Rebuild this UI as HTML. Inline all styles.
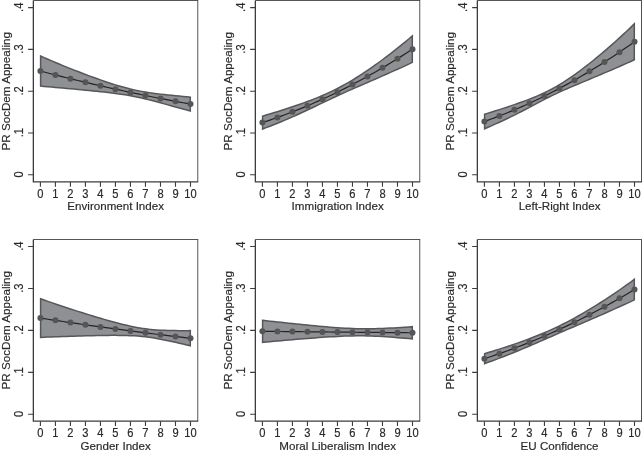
<!DOCTYPE html>
<html><head><meta charset="utf-8"><title>Predicted probabilities</title>
<style>html,body{margin:0;padding:0;background:#fff;overflow:hidden}svg{display:block}text{stroke:#2a2a2a;stroke-width:.18px}</style></head>
<body>
<svg width="642" height="453" viewBox="0 0 642 453" font-family="Liberation Sans, Arial, sans-serif" font-size="11.6" fill="#2a2a2a">
<rect width="642" height="453" fill="#fff"/>
<g>
<path d="M33.35 0.50H198.20" fill="none" stroke="#555" stroke-width="1"/>
<path d="M197.75 0.50V181.90" fill="none" stroke="#444" stroke-width="0.9"/>
<polygon points="40.60,56.05 44.15,57.68 47.91,59.29 51.66,60.89 55.41,62.46 59.16,64.03 62.91,65.57 66.67,67.10 70.42,68.60 74.17,70.09 77.92,71.56 81.68,73.00 85.43,74.43 89.18,75.83 92.94,77.21 96.69,78.57 100.44,79.89 104.19,81.19 107.94,82.45 111.70,83.67 115.45,84.85 119.20,85.98 122.95,87.05 126.71,88.06 130.46,89.01 134.21,89.87 137.97,90.66 141.72,91.38 145.47,92.03 149.22,92.62 152.97,93.16 156.73,93.66 160.48,94.12 164.23,94.56 167.98,94.97 171.74,95.36 175.49,95.74 179.24,96.11 183.00,96.46 186.75,96.80 190.30,97.14 190.30,111.01 186.75,110.00 183.00,108.99 179.24,107.96 175.49,106.94 171.74,105.91 167.98,104.88 164.23,103.85 160.48,102.83 156.73,101.83 152.97,100.84 149.22,99.88 145.47,98.95 141.72,98.07 137.97,97.24 134.21,96.47 130.46,95.76 126.71,95.10 122.95,94.50 119.20,93.95 115.45,93.43 111.70,92.95 107.94,92.50 104.19,92.07 100.44,91.66 96.69,91.27 92.94,90.88 89.18,90.51 85.43,90.14 81.68,89.78 77.92,89.43 74.17,89.08 70.42,88.73 66.67,88.39 62.91,88.05 59.16,87.72 55.41,87.38 51.66,87.05 47.91,86.72 44.15,86.39 40.60,86.06" fill="#8f9093"/>
<polyline points="40.40,71.05 44.15,72.03 47.91,73.00 51.66,73.97 55.41,74.92 59.16,75.87 62.91,76.81 66.67,77.74 70.42,78.67 74.17,79.58 77.92,80.49 81.68,81.39 85.43,82.29 89.18,83.17 92.94,84.05 96.69,84.92 100.44,85.78 104.19,86.63 107.94,87.48 111.70,88.31 115.45,89.14 119.20,89.96 122.95,90.78 126.71,91.58 130.46,92.38 134.21,93.17 137.97,93.95 141.72,94.73 145.47,95.49 149.22,96.25 152.97,97.00 156.73,97.74 160.48,98.48 164.23,99.21 167.98,99.92 171.74,100.64 175.49,101.34 179.24,102.04 183.00,102.72 186.75,103.40 190.50,104.08" fill="none" stroke="#242424" stroke-width="1.2"/>
<circle cx="40.40" cy="71.05" r="3" fill="#555"/>
<circle cx="55.41" cy="74.92" r="3" fill="#555"/>
<circle cx="70.42" cy="78.67" r="3" fill="#555"/>
<circle cx="85.43" cy="82.29" r="3" fill="#555"/>
<circle cx="100.44" cy="85.78" r="3" fill="#555"/>
<circle cx="115.45" cy="89.14" r="3" fill="#555"/>
<circle cx="130.46" cy="92.38" r="3" fill="#555"/>
<circle cx="145.47" cy="95.49" r="3" fill="#555"/>
<circle cx="160.48" cy="98.48" r="3" fill="#555"/>
<circle cx="175.49" cy="101.34" r="3" fill="#555"/>
<circle cx="190.50" cy="104.08" r="3" fill="#555"/>
<polygon points="40.60,56.05 44.15,57.68 47.91,59.29 51.66,60.89 55.41,62.46 59.16,64.03 62.91,65.57 66.67,67.10 70.42,68.60 74.17,70.09 77.92,71.56 81.68,73.00 85.43,74.43 89.18,75.83 92.94,77.21 96.69,78.57 100.44,79.89 104.19,81.19 107.94,82.45 111.70,83.67 115.45,84.85 119.20,85.98 122.95,87.05 126.71,88.06 130.46,89.01 134.21,89.87 137.97,90.66 141.72,91.38 145.47,92.03 149.22,92.62 152.97,93.16 156.73,93.66 160.48,94.12 164.23,94.56 167.98,94.97 171.74,95.36 175.49,95.74 179.24,96.11 183.00,96.46 186.75,96.80 190.30,97.14 190.30,111.01 186.75,110.00 183.00,108.99 179.24,107.96 175.49,106.94 171.74,105.91 167.98,104.88 164.23,103.85 160.48,102.83 156.73,101.83 152.97,100.84 149.22,99.88 145.47,98.95 141.72,98.07 137.97,97.24 134.21,96.47 130.46,95.76 126.71,95.10 122.95,94.50 119.20,93.95 115.45,93.43 111.70,92.95 107.94,92.50 104.19,92.07 100.44,91.66 96.69,91.27 92.94,90.88 89.18,90.51 85.43,90.14 81.68,89.78 77.92,89.43 74.17,89.08 70.42,88.73 66.67,88.39 62.91,88.05 59.16,87.72 55.41,87.38 51.66,87.05 47.91,86.72 44.15,86.39 40.60,86.06" fill="none" stroke="#56575a" stroke-width="1.5" stroke-linejoin="miter"/>
<path d="M33.35 0.50 V181.90 H198.20" fill="none" stroke="#3c3c3c" stroke-width="1.3"/>
<path d="M40.40 181.90v4.8M55.41 181.90v4.8M70.42 181.90v4.8M85.43 181.90v4.8M100.44 181.90v4.8M115.45 181.90v4.8M130.46 181.90v4.8M145.47 181.90v4.8M160.48 181.90v4.8M175.49 181.90v4.8M190.50 181.90v4.8M33.35 174.80h-5.2M33.35 133.00h-5.2M33.35 91.20h-5.2M33.35 49.40h-5.2M33.35 7.60h-5.2" fill="none" stroke="#3c3c3c" stroke-width="1.1"/>
<text transform="translate(40.40 197.65) scale(.96 1.08)" text-anchor="middle">0</text>
<text transform="translate(55.41 197.65) scale(.96 1.08)" text-anchor="middle">1</text>
<text transform="translate(70.42 197.65) scale(.96 1.08)" text-anchor="middle">2</text>
<text transform="translate(85.43 197.65) scale(.96 1.08)" text-anchor="middle">3</text>
<text transform="translate(100.44 197.65) scale(.96 1.08)" text-anchor="middle">4</text>
<text transform="translate(115.45 197.65) scale(.96 1.08)" text-anchor="middle">5</text>
<text transform="translate(130.46 197.65) scale(.96 1.08)" text-anchor="middle">6</text>
<text transform="translate(145.47 197.65) scale(.96 1.08)" text-anchor="middle">7</text>
<text transform="translate(160.48 197.65) scale(.96 1.08)" text-anchor="middle">8</text>
<text transform="translate(175.49 197.65) scale(.96 1.08)" text-anchor="middle">9</text>
<text transform="translate(190.50 197.65) scale(.96 1.08)" text-anchor="middle">10</text>
<text x="115.67" y="210.40" text-anchor="middle">Environment Index</text>
<text transform="translate(22.55 174.45) rotate(-90) scale(.96 1.08)" text-anchor="middle">0</text>
<text transform="translate(22.55 132.65) rotate(-90) scale(.96 1.08)" text-anchor="middle">.1</text>
<text transform="translate(22.55 90.85) rotate(-90) scale(.96 1.08)" text-anchor="middle">.2</text>
<text transform="translate(22.55 49.05) rotate(-90) scale(.96 1.08)" text-anchor="middle">.3</text>
<text transform="translate(22.55 7.25) rotate(-90) scale(.96 1.08)" text-anchor="middle">.4</text>
<text transform="translate(9.85 91.30) rotate(-90)" text-anchor="middle" font-size="11.65">PR SocDem Appealing</text>
</g>
<g>
<path d="M255.35 0.50H420.20" fill="none" stroke="#555" stroke-width="1"/>
<path d="M419.75 0.50V181.90" fill="none" stroke="#444" stroke-width="0.9"/>
<polygon points="262.60,116.16 266.15,115.07 269.90,113.96 273.66,112.83 277.41,111.68 281.16,110.50 284.91,109.30 288.67,108.08 292.42,106.83 296.17,105.55 299.92,104.24 303.68,102.89 307.43,101.51 311.18,100.08 314.93,98.61 318.69,97.09 322.44,95.51 326.19,93.86 329.94,92.14 333.70,90.34 337.45,88.46 341.20,86.49 344.95,84.43 348.71,82.29 352.46,80.06 356.21,77.76 359.96,75.38 363.72,72.93 367.47,70.42 371.22,67.84 374.97,65.20 378.73,62.50 382.48,59.75 386.23,56.94 389.98,54.08 393.74,51.17 397.49,48.20 401.24,45.20 405.00,42.14 408.75,39.04 412.30,35.90 412.30,62.40 408.75,64.14 405.00,65.86 401.24,67.57 397.49,69.26 393.74,70.94 389.98,72.61 386.23,74.27 382.48,75.93 378.73,77.57 374.97,79.21 371.22,80.84 367.47,82.47 363.72,84.10 359.96,85.73 356.21,87.37 352.46,89.02 348.71,90.68 344.95,92.37 341.20,94.07 337.45,95.80 333.70,97.55 329.94,99.32 326.19,101.10 322.44,102.90 318.69,104.69 314.93,106.49 311.18,108.27 307.43,110.04 303.68,111.79 299.92,113.51 296.17,115.21 292.42,116.88 288.67,118.51 284.91,120.12 281.16,121.69 277.41,123.23 273.66,124.73 269.90,126.20 266.15,127.63 262.60,129.03" fill="#8f9093"/>
<polyline points="262.40,122.59 266.15,121.35 269.90,120.08 273.66,118.78 277.41,117.45 281.16,116.10 284.91,114.71 288.67,113.30 292.42,111.85 296.17,110.38 299.92,108.87 303.68,107.34 307.43,105.77 311.18,104.18 314.93,102.55 318.69,100.89 322.44,99.20 326.19,97.48 329.94,95.73 333.70,93.94 337.45,92.13 341.20,90.28 344.95,88.40 348.71,86.49 352.46,84.54 356.21,82.57 359.96,80.56 363.72,78.52 367.47,76.44 371.22,74.34 374.97,72.20 378.73,70.04 382.48,67.84 386.23,65.61 389.98,63.35 393.74,61.05 397.49,58.73 401.24,56.38 405.00,54.00 408.75,51.59 412.50,49.15" fill="none" stroke="#242424" stroke-width="1.2"/>
<circle cx="262.40" cy="122.59" r="3" fill="#555"/>
<circle cx="277.41" cy="117.45" r="3" fill="#555"/>
<circle cx="292.42" cy="111.85" r="3" fill="#555"/>
<circle cx="307.43" cy="105.77" r="3" fill="#555"/>
<circle cx="322.44" cy="99.20" r="3" fill="#555"/>
<circle cx="337.45" cy="92.13" r="3" fill="#555"/>
<circle cx="352.46" cy="84.54" r="3" fill="#555"/>
<circle cx="367.47" cy="76.44" r="3" fill="#555"/>
<circle cx="382.48" cy="67.84" r="3" fill="#555"/>
<circle cx="397.49" cy="58.73" r="3" fill="#555"/>
<circle cx="412.50" cy="49.15" r="3" fill="#555"/>
<polygon points="262.60,116.16 266.15,115.07 269.90,113.96 273.66,112.83 277.41,111.68 281.16,110.50 284.91,109.30 288.67,108.08 292.42,106.83 296.17,105.55 299.92,104.24 303.68,102.89 307.43,101.51 311.18,100.08 314.93,98.61 318.69,97.09 322.44,95.51 326.19,93.86 329.94,92.14 333.70,90.34 337.45,88.46 341.20,86.49 344.95,84.43 348.71,82.29 352.46,80.06 356.21,77.76 359.96,75.38 363.72,72.93 367.47,70.42 371.22,67.84 374.97,65.20 378.73,62.50 382.48,59.75 386.23,56.94 389.98,54.08 393.74,51.17 397.49,48.20 401.24,45.20 405.00,42.14 408.75,39.04 412.30,35.90 412.30,62.40 408.75,64.14 405.00,65.86 401.24,67.57 397.49,69.26 393.74,70.94 389.98,72.61 386.23,74.27 382.48,75.93 378.73,77.57 374.97,79.21 371.22,80.84 367.47,82.47 363.72,84.10 359.96,85.73 356.21,87.37 352.46,89.02 348.71,90.68 344.95,92.37 341.20,94.07 337.45,95.80 333.70,97.55 329.94,99.32 326.19,101.10 322.44,102.90 318.69,104.69 314.93,106.49 311.18,108.27 307.43,110.04 303.68,111.79 299.92,113.51 296.17,115.21 292.42,116.88 288.67,118.51 284.91,120.12 281.16,121.69 277.41,123.23 273.66,124.73 269.90,126.20 266.15,127.63 262.60,129.03" fill="none" stroke="#56575a" stroke-width="1.5" stroke-linejoin="miter"/>
<path d="M255.35 0.50 V181.90 H420.20" fill="none" stroke="#3c3c3c" stroke-width="1.3"/>
<path d="M262.40 181.90v4.8M277.41 181.90v4.8M292.42 181.90v4.8M307.43 181.90v4.8M322.44 181.90v4.8M337.45 181.90v4.8M352.46 181.90v4.8M367.47 181.90v4.8M382.48 181.90v4.8M397.49 181.90v4.8M412.50 181.90v4.8M255.35 174.80h-5.2M255.35 133.00h-5.2M255.35 91.20h-5.2M255.35 49.40h-5.2M255.35 7.60h-5.2" fill="none" stroke="#3c3c3c" stroke-width="1.1"/>
<text transform="translate(262.40 197.65) scale(.96 1.08)" text-anchor="middle">0</text>
<text transform="translate(277.41 197.65) scale(.96 1.08)" text-anchor="middle">1</text>
<text transform="translate(292.42 197.65) scale(.96 1.08)" text-anchor="middle">2</text>
<text transform="translate(307.43 197.65) scale(.96 1.08)" text-anchor="middle">3</text>
<text transform="translate(322.44 197.65) scale(.96 1.08)" text-anchor="middle">4</text>
<text transform="translate(337.45 197.65) scale(.96 1.08)" text-anchor="middle">5</text>
<text transform="translate(352.46 197.65) scale(.96 1.08)" text-anchor="middle">6</text>
<text transform="translate(367.47 197.65) scale(.96 1.08)" text-anchor="middle">7</text>
<text transform="translate(382.48 197.65) scale(.96 1.08)" text-anchor="middle">8</text>
<text transform="translate(397.49 197.65) scale(.96 1.08)" text-anchor="middle">9</text>
<text transform="translate(412.50 197.65) scale(.96 1.08)" text-anchor="middle">10</text>
<text x="337.68" y="210.40" text-anchor="middle">Immigration Index</text>
<text transform="translate(244.55 174.45) rotate(-90) scale(.96 1.08)" text-anchor="middle">0</text>
<text transform="translate(244.55 132.65) rotate(-90) scale(.96 1.08)" text-anchor="middle">.1</text>
<text transform="translate(244.55 90.85) rotate(-90) scale(.96 1.08)" text-anchor="middle">.2</text>
<text transform="translate(244.55 49.05) rotate(-90) scale(.96 1.08)" text-anchor="middle">.3</text>
<text transform="translate(244.55 7.25) rotate(-90) scale(.96 1.08)" text-anchor="middle">.4</text>
<text transform="translate(231.85 91.30) rotate(-90)" text-anchor="middle" font-size="11.65">PR SocDem Appealing</text>
</g>
<g>
<path d="M477.35 0.50H642.00" fill="none" stroke="#555" stroke-width="1"/>
<path d="M641.5 0.50V181.90" fill="none" stroke="#505050" stroke-width="1"/>
<polygon points="484.60,114.23 488.15,113.10 491.90,111.96 495.66,110.79 499.41,109.60 503.16,108.40 506.91,107.17 510.67,105.91 514.42,104.63 518.17,103.32 521.92,101.97 525.68,100.59 529.43,99.16 533.18,97.68 536.93,96.13 540.69,94.50 544.44,92.78 548.19,90.95 551.94,88.99 555.70,86.91 559.45,84.70 563.20,82.38 566.95,79.94 570.71,77.40 574.46,74.77 578.21,72.06 581.96,69.27 585.72,66.40 589.47,63.47 593.22,60.47 596.98,57.41 600.73,54.29 604.48,51.11 608.23,47.88 611.99,44.59 615.74,41.25 619.49,37.86 623.24,34.42 627.00,30.93 630.75,27.40 634.30,23.82 634.30,59.77 630.75,61.46 627.00,63.14 623.24,64.80 619.49,66.45 615.74,68.08 611.99,69.71 608.23,71.32 604.48,72.92 600.73,74.52 596.98,76.10 593.22,77.68 589.47,79.25 585.72,80.82 581.96,82.39 578.21,83.96 574.46,85.54 570.71,87.14 566.95,88.76 563.20,90.41 559.45,92.10 555.70,93.84 551.94,95.64 548.19,97.50 544.44,99.41 540.69,101.36 536.93,103.34 533.18,105.33 529.43,107.31 525.68,109.28 521.92,111.24 518.17,113.16 514.42,115.05 510.67,116.91 506.91,118.73 503.16,120.50 499.41,122.24 495.66,123.94 491.90,125.59 488.15,127.21 484.60,128.78" fill="#8f9093"/>
<polyline points="484.40,121.51 488.15,120.16 491.90,118.78 495.66,117.37 499.41,115.92 503.16,114.45 506.91,112.95 510.67,111.41 514.42,109.84 518.17,108.24 521.92,106.60 525.68,104.94 529.43,103.24 533.18,101.50 536.93,99.73 540.69,97.93 544.44,96.09 548.19,94.22 551.94,92.32 555.70,90.38 559.45,88.40 563.20,86.39 566.95,84.35 570.71,82.27 574.46,80.16 578.21,78.01 581.96,75.83 585.72,73.61 589.47,71.36 593.22,69.08 596.98,66.76 600.73,64.40 604.48,62.02 608.23,59.60 611.99,57.15 615.74,54.67 619.49,52.15 623.24,49.61 627.00,47.03 630.75,44.43 634.50,41.79" fill="none" stroke="#242424" stroke-width="1.2"/>
<circle cx="484.40" cy="121.51" r="3" fill="#555"/>
<circle cx="499.41" cy="115.92" r="3" fill="#555"/>
<circle cx="514.42" cy="109.84" r="3" fill="#555"/>
<circle cx="529.43" cy="103.24" r="3" fill="#555"/>
<circle cx="544.44" cy="96.09" r="3" fill="#555"/>
<circle cx="559.45" cy="88.40" r="3" fill="#555"/>
<circle cx="574.46" cy="80.16" r="3" fill="#555"/>
<circle cx="589.47" cy="71.36" r="3" fill="#555"/>
<circle cx="604.48" cy="62.02" r="3" fill="#555"/>
<circle cx="619.49" cy="52.15" r="3" fill="#555"/>
<circle cx="634.50" cy="41.79" r="3" fill="#555"/>
<polygon points="484.60,114.23 488.15,113.10 491.90,111.96 495.66,110.79 499.41,109.60 503.16,108.40 506.91,107.17 510.67,105.91 514.42,104.63 518.17,103.32 521.92,101.97 525.68,100.59 529.43,99.16 533.18,97.68 536.93,96.13 540.69,94.50 544.44,92.78 548.19,90.95 551.94,88.99 555.70,86.91 559.45,84.70 563.20,82.38 566.95,79.94 570.71,77.40 574.46,74.77 578.21,72.06 581.96,69.27 585.72,66.40 589.47,63.47 593.22,60.47 596.98,57.41 600.73,54.29 604.48,51.11 608.23,47.88 611.99,44.59 615.74,41.25 619.49,37.86 623.24,34.42 627.00,30.93 630.75,27.40 634.30,23.82 634.30,59.77 630.75,61.46 627.00,63.14 623.24,64.80 619.49,66.45 615.74,68.08 611.99,69.71 608.23,71.32 604.48,72.92 600.73,74.52 596.98,76.10 593.22,77.68 589.47,79.25 585.72,80.82 581.96,82.39 578.21,83.96 574.46,85.54 570.71,87.14 566.95,88.76 563.20,90.41 559.45,92.10 555.70,93.84 551.94,95.64 548.19,97.50 544.44,99.41 540.69,101.36 536.93,103.34 533.18,105.33 529.43,107.31 525.68,109.28 521.92,111.24 518.17,113.16 514.42,115.05 510.67,116.91 506.91,118.73 503.16,120.50 499.41,122.24 495.66,123.94 491.90,125.59 488.15,127.21 484.60,128.78" fill="none" stroke="#56575a" stroke-width="1.5" stroke-linejoin="miter"/>
<path d="M477.35 0.50 V181.90 H642.00" fill="none" stroke="#3c3c3c" stroke-width="1.3"/>
<path d="M484.40 181.90v4.8M499.41 181.90v4.8M514.42 181.90v4.8M529.43 181.90v4.8M544.44 181.90v4.8M559.45 181.90v4.8M574.46 181.90v4.8M589.47 181.90v4.8M604.48 181.90v4.8M619.49 181.90v4.8M634.50 181.90v4.8M477.35 174.80h-5.2M477.35 133.00h-5.2M477.35 91.20h-5.2M477.35 49.40h-5.2M477.35 7.60h-5.2" fill="none" stroke="#3c3c3c" stroke-width="1.1"/>
<text transform="translate(484.40 197.65) scale(.96 1.08)" text-anchor="middle">0</text>
<text transform="translate(499.41 197.65) scale(.96 1.08)" text-anchor="middle">1</text>
<text transform="translate(514.42 197.65) scale(.96 1.08)" text-anchor="middle">2</text>
<text transform="translate(529.43 197.65) scale(.96 1.08)" text-anchor="middle">3</text>
<text transform="translate(544.44 197.65) scale(.96 1.08)" text-anchor="middle">4</text>
<text transform="translate(559.45 197.65) scale(.96 1.08)" text-anchor="middle">5</text>
<text transform="translate(574.46 197.65) scale(.96 1.08)" text-anchor="middle">6</text>
<text transform="translate(589.47 197.65) scale(.96 1.08)" text-anchor="middle">7</text>
<text transform="translate(604.48 197.65) scale(.96 1.08)" text-anchor="middle">8</text>
<text transform="translate(619.49 197.65) scale(.96 1.08)" text-anchor="middle">9</text>
<text transform="translate(634.50 197.65) scale(.96 1.08)" text-anchor="middle">10</text>
<text x="559.58" y="210.40" text-anchor="middle">Left-Right Index</text>
<text transform="translate(466.55 174.45) rotate(-90) scale(.96 1.08)" text-anchor="middle">0</text>
<text transform="translate(466.55 132.65) rotate(-90) scale(.96 1.08)" text-anchor="middle">.1</text>
<text transform="translate(466.55 90.85) rotate(-90) scale(.96 1.08)" text-anchor="middle">.2</text>
<text transform="translate(466.55 49.05) rotate(-90) scale(.96 1.08)" text-anchor="middle">.3</text>
<text transform="translate(466.55 7.25) rotate(-90) scale(.96 1.08)" text-anchor="middle">.4</text>
<text transform="translate(453.85 91.30) rotate(-90)" text-anchor="middle" font-size="11.65">PR SocDem Appealing</text>
</g>
<g>
<path d="M33.35 239.50H198.20" fill="none" stroke="#555" stroke-width="1"/>
<path d="M197.75 239.50V421.20" fill="none" stroke="#444" stroke-width="0.9"/>
<polygon points="40.60,298.73 44.15,300.05 47.91,301.35 51.66,302.64 55.41,303.92 59.16,305.19 62.91,306.45 66.67,307.70 70.42,308.93 74.17,310.15 77.92,311.36 81.68,312.55 85.43,313.73 89.18,314.89 92.94,316.04 96.69,317.17 100.44,318.28 104.19,319.38 107.94,320.45 111.70,321.49 115.45,322.51 119.20,323.49 122.95,324.43 126.71,325.33 130.46,326.18 134.21,326.97 137.97,327.68 141.72,328.31 145.47,328.85 149.22,329.31 152.97,329.68 156.73,329.97 160.48,330.20 164.23,330.36 167.98,330.48 171.74,330.56 175.49,330.61 179.24,330.64 183.00,330.65 186.75,330.64 190.30,330.61 190.30,345.80 186.75,344.92 183.00,344.05 179.24,343.19 175.49,342.34 171.74,341.51 167.98,340.70 164.23,339.92 160.48,339.17 156.73,338.48 152.97,337.85 149.22,337.29 145.47,336.81 141.72,336.41 137.97,336.08 134.21,335.83 130.46,335.65 126.71,335.51 122.95,335.43 119.20,335.38 115.45,335.36 111.70,335.36 107.94,335.39 104.19,335.43 100.44,335.49 96.69,335.56 92.94,335.64 89.18,335.73 85.43,335.83 81.68,335.93 77.92,336.04 74.17,336.16 70.42,336.28 66.67,336.41 62.91,336.54 59.16,336.67 55.41,336.81 51.66,336.96 47.91,337.10 44.15,337.26 40.60,337.41" fill="#8f9093"/>
<polyline points="40.40,318.07 44.15,318.65 47.91,319.23 51.66,319.80 55.41,320.37 59.16,320.93 62.91,321.50 66.67,322.05 70.42,322.61 74.17,323.15 77.92,323.70 81.68,324.24 85.43,324.78 89.18,325.31 92.94,325.84 96.69,326.37 100.44,326.89 104.19,327.40 107.94,327.92 111.70,328.43 115.45,328.93 119.20,329.43 122.95,329.93 126.71,330.42 130.46,330.91 134.21,331.40 137.97,331.88 141.72,332.36 145.47,332.83 149.22,333.30 152.97,333.77 156.73,334.23 160.48,334.69 164.23,335.14 167.98,335.59 171.74,336.04 175.49,336.48 179.24,336.92 183.00,337.35 186.75,337.78 190.50,338.21" fill="none" stroke="#242424" stroke-width="1.2"/>
<circle cx="40.40" cy="318.07" r="3" fill="#555"/>
<circle cx="55.41" cy="320.37" r="3" fill="#555"/>
<circle cx="70.42" cy="322.61" r="3" fill="#555"/>
<circle cx="85.43" cy="324.78" r="3" fill="#555"/>
<circle cx="100.44" cy="326.89" r="3" fill="#555"/>
<circle cx="115.45" cy="328.93" r="3" fill="#555"/>
<circle cx="130.46" cy="330.91" r="3" fill="#555"/>
<circle cx="145.47" cy="332.83" r="3" fill="#555"/>
<circle cx="160.48" cy="334.69" r="3" fill="#555"/>
<circle cx="175.49" cy="336.48" r="3" fill="#555"/>
<circle cx="190.50" cy="338.21" r="3" fill="#555"/>
<polygon points="40.60,298.73 44.15,300.05 47.91,301.35 51.66,302.64 55.41,303.92 59.16,305.19 62.91,306.45 66.67,307.70 70.42,308.93 74.17,310.15 77.92,311.36 81.68,312.55 85.43,313.73 89.18,314.89 92.94,316.04 96.69,317.17 100.44,318.28 104.19,319.38 107.94,320.45 111.70,321.49 115.45,322.51 119.20,323.49 122.95,324.43 126.71,325.33 130.46,326.18 134.21,326.97 137.97,327.68 141.72,328.31 145.47,328.85 149.22,329.31 152.97,329.68 156.73,329.97 160.48,330.20 164.23,330.36 167.98,330.48 171.74,330.56 175.49,330.61 179.24,330.64 183.00,330.65 186.75,330.64 190.30,330.61 190.30,345.80 186.75,344.92 183.00,344.05 179.24,343.19 175.49,342.34 171.74,341.51 167.98,340.70 164.23,339.92 160.48,339.17 156.73,338.48 152.97,337.85 149.22,337.29 145.47,336.81 141.72,336.41 137.97,336.08 134.21,335.83 130.46,335.65 126.71,335.51 122.95,335.43 119.20,335.38 115.45,335.36 111.70,335.36 107.94,335.39 104.19,335.43 100.44,335.49 96.69,335.56 92.94,335.64 89.18,335.73 85.43,335.83 81.68,335.93 77.92,336.04 74.17,336.16 70.42,336.28 66.67,336.41 62.91,336.54 59.16,336.67 55.41,336.81 51.66,336.96 47.91,337.10 44.15,337.26 40.60,337.41" fill="none" stroke="#56575a" stroke-width="1.5" stroke-linejoin="miter"/>
<path d="M33.35 239.50 V421.20 H198.20" fill="none" stroke="#3c3c3c" stroke-width="1.3"/>
<path d="M40.40 421.20v4.8M55.41 421.20v4.8M70.42 421.20v4.8M85.43 421.20v4.8M100.44 421.20v4.8M115.45 421.20v4.8M130.46 421.20v4.8M145.47 421.20v4.8M160.48 421.20v4.8M175.49 421.20v4.8M190.50 421.20v4.8M33.35 414.30h-5.2M33.35 372.35h-5.2M33.35 330.40h-5.2M33.35 288.45h-5.2M33.35 246.50h-5.2" fill="none" stroke="#3c3c3c" stroke-width="1.1"/>
<text transform="translate(40.40 436.95) scale(.96 1.08)" text-anchor="middle">0</text>
<text transform="translate(55.41 436.95) scale(.96 1.08)" text-anchor="middle">1</text>
<text transform="translate(70.42 436.95) scale(.96 1.08)" text-anchor="middle">2</text>
<text transform="translate(85.43 436.95) scale(.96 1.08)" text-anchor="middle">3</text>
<text transform="translate(100.44 436.95) scale(.96 1.08)" text-anchor="middle">4</text>
<text transform="translate(115.45 436.95) scale(.96 1.08)" text-anchor="middle">5</text>
<text transform="translate(130.46 436.95) scale(.96 1.08)" text-anchor="middle">6</text>
<text transform="translate(145.47 436.95) scale(.96 1.08)" text-anchor="middle">7</text>
<text transform="translate(160.48 436.95) scale(.96 1.08)" text-anchor="middle">8</text>
<text transform="translate(175.49 436.95) scale(.96 1.08)" text-anchor="middle">9</text>
<text transform="translate(190.50 436.95) scale(.96 1.08)" text-anchor="middle">10</text>
<text x="115.67" y="449.70" text-anchor="middle">Gender Index</text>
<text transform="translate(22.55 413.95) rotate(-90) scale(.96 1.08)" text-anchor="middle">0</text>
<text transform="translate(22.55 372.00) rotate(-90) scale(.96 1.08)" text-anchor="middle">.1</text>
<text transform="translate(22.55 330.05) rotate(-90) scale(.96 1.08)" text-anchor="middle">.2</text>
<text transform="translate(22.55 288.10) rotate(-90) scale(.96 1.08)" text-anchor="middle">.3</text>
<text transform="translate(22.55 246.15) rotate(-90) scale(.96 1.08)" text-anchor="middle">.4</text>
<text transform="translate(9.85 330.20) rotate(-90)" text-anchor="middle" font-size="11.65">PR SocDem Appealing</text>
</g>
<g>
<path d="M255.35 239.50H420.20" fill="none" stroke="#555" stroke-width="1"/>
<path d="M419.75 239.50V421.20" fill="none" stroke="#444" stroke-width="0.9"/>
<polygon points="262.60,320.34 266.15,320.75 269.90,321.16 273.66,321.56 277.41,321.97 281.16,322.37 284.91,322.77 288.67,323.17 292.42,323.56 296.17,323.95 299.92,324.33 303.68,324.71 307.43,325.08 311.18,325.45 314.93,325.81 318.69,326.16 322.44,326.49 326.19,326.82 329.94,327.13 333.70,327.42 337.45,327.70 341.20,327.95 344.95,328.18 348.71,328.37 352.46,328.54 356.21,328.66 359.96,328.75 363.72,328.79 367.47,328.80 371.22,328.77 374.97,328.69 378.73,328.59 382.48,328.45 386.23,328.28 389.98,328.10 393.74,327.89 397.49,327.66 401.24,327.42 405.00,327.17 408.75,326.90 412.30,326.63 412.30,338.96 408.75,338.61 405.00,338.28 401.24,337.95 397.49,337.64 393.74,337.34 389.98,337.05 386.23,336.79 382.48,336.56 378.73,336.35 374.97,336.17 371.22,336.02 367.47,335.91 363.72,335.84 359.96,335.82 356.21,335.83 352.46,335.88 348.71,335.97 344.95,336.10 341.20,336.25 337.45,336.43 333.70,336.63 329.94,336.85 326.19,337.09 322.44,337.34 318.69,337.60 314.93,337.88 311.18,338.16 307.43,338.45 303.68,338.75 299.92,339.06 296.17,339.37 292.42,339.68 288.67,340.00 284.91,340.32 281.16,340.65 277.41,340.98 273.66,341.31 269.90,341.64 266.15,341.98 262.60,342.32" fill="#8f9093"/>
<polyline points="262.40,331.33 266.15,331.36 269.90,331.40 273.66,331.44 277.41,331.47 281.16,331.51 284.91,331.55 288.67,331.58 292.42,331.62 296.17,331.66 299.92,331.70 303.68,331.73 307.43,331.77 311.18,331.81 314.93,331.84 318.69,331.88 322.44,331.92 326.19,331.95 329.94,331.99 333.70,332.03 337.45,332.06 341.20,332.10 344.95,332.14 348.71,332.17 352.46,332.21 356.21,332.25 359.96,332.28 363.72,332.32 367.47,332.36 371.22,332.39 374.97,332.43 378.73,332.47 382.48,332.50 386.23,332.54 389.98,332.58 393.74,332.61 397.49,332.65 401.24,332.69 405.00,332.72 408.75,332.76 412.50,332.79" fill="none" stroke="#242424" stroke-width="1.2"/>
<circle cx="262.40" cy="331.33" r="3" fill="#555"/>
<circle cx="277.41" cy="331.47" r="3" fill="#555"/>
<circle cx="292.42" cy="331.62" r="3" fill="#555"/>
<circle cx="307.43" cy="331.77" r="3" fill="#555"/>
<circle cx="322.44" cy="331.92" r="3" fill="#555"/>
<circle cx="337.45" cy="332.06" r="3" fill="#555"/>
<circle cx="352.46" cy="332.21" r="3" fill="#555"/>
<circle cx="367.47" cy="332.36" r="3" fill="#555"/>
<circle cx="382.48" cy="332.50" r="3" fill="#555"/>
<circle cx="397.49" cy="332.65" r="3" fill="#555"/>
<circle cx="412.50" cy="332.79" r="3" fill="#555"/>
<polygon points="262.60,320.34 266.15,320.75 269.90,321.16 273.66,321.56 277.41,321.97 281.16,322.37 284.91,322.77 288.67,323.17 292.42,323.56 296.17,323.95 299.92,324.33 303.68,324.71 307.43,325.08 311.18,325.45 314.93,325.81 318.69,326.16 322.44,326.49 326.19,326.82 329.94,327.13 333.70,327.42 337.45,327.70 341.20,327.95 344.95,328.18 348.71,328.37 352.46,328.54 356.21,328.66 359.96,328.75 363.72,328.79 367.47,328.80 371.22,328.77 374.97,328.69 378.73,328.59 382.48,328.45 386.23,328.28 389.98,328.10 393.74,327.89 397.49,327.66 401.24,327.42 405.00,327.17 408.75,326.90 412.30,326.63 412.30,338.96 408.75,338.61 405.00,338.28 401.24,337.95 397.49,337.64 393.74,337.34 389.98,337.05 386.23,336.79 382.48,336.56 378.73,336.35 374.97,336.17 371.22,336.02 367.47,335.91 363.72,335.84 359.96,335.82 356.21,335.83 352.46,335.88 348.71,335.97 344.95,336.10 341.20,336.25 337.45,336.43 333.70,336.63 329.94,336.85 326.19,337.09 322.44,337.34 318.69,337.60 314.93,337.88 311.18,338.16 307.43,338.45 303.68,338.75 299.92,339.06 296.17,339.37 292.42,339.68 288.67,340.00 284.91,340.32 281.16,340.65 277.41,340.98 273.66,341.31 269.90,341.64 266.15,341.98 262.60,342.32" fill="none" stroke="#56575a" stroke-width="1.5" stroke-linejoin="miter"/>
<path d="M255.35 239.50 V421.20 H420.20" fill="none" stroke="#3c3c3c" stroke-width="1.3"/>
<path d="M262.40 421.20v4.8M277.41 421.20v4.8M292.42 421.20v4.8M307.43 421.20v4.8M322.44 421.20v4.8M337.45 421.20v4.8M352.46 421.20v4.8M367.47 421.20v4.8M382.48 421.20v4.8M397.49 421.20v4.8M412.50 421.20v4.8M255.35 414.30h-5.2M255.35 372.35h-5.2M255.35 330.40h-5.2M255.35 288.45h-5.2M255.35 246.50h-5.2" fill="none" stroke="#3c3c3c" stroke-width="1.1"/>
<text transform="translate(262.40 436.95) scale(.96 1.08)" text-anchor="middle">0</text>
<text transform="translate(277.41 436.95) scale(.96 1.08)" text-anchor="middle">1</text>
<text transform="translate(292.42 436.95) scale(.96 1.08)" text-anchor="middle">2</text>
<text transform="translate(307.43 436.95) scale(.96 1.08)" text-anchor="middle">3</text>
<text transform="translate(322.44 436.95) scale(.96 1.08)" text-anchor="middle">4</text>
<text transform="translate(337.45 436.95) scale(.96 1.08)" text-anchor="middle">5</text>
<text transform="translate(352.46 436.95) scale(.96 1.08)" text-anchor="middle">6</text>
<text transform="translate(367.47 436.95) scale(.96 1.08)" text-anchor="middle">7</text>
<text transform="translate(382.48 436.95) scale(.96 1.08)" text-anchor="middle">8</text>
<text transform="translate(397.49 436.95) scale(.96 1.08)" text-anchor="middle">9</text>
<text transform="translate(412.50 436.95) scale(.96 1.08)" text-anchor="middle">10</text>
<text x="337.68" y="449.70" text-anchor="middle">Moral Liberalism Index</text>
<text transform="translate(244.55 413.95) rotate(-90) scale(.96 1.08)" text-anchor="middle">0</text>
<text transform="translate(244.55 372.00) rotate(-90) scale(.96 1.08)" text-anchor="middle">.1</text>
<text transform="translate(244.55 330.05) rotate(-90) scale(.96 1.08)" text-anchor="middle">.2</text>
<text transform="translate(244.55 288.10) rotate(-90) scale(.96 1.08)" text-anchor="middle">.3</text>
<text transform="translate(244.55 246.15) rotate(-90) scale(.96 1.08)" text-anchor="middle">.4</text>
<text transform="translate(231.85 330.20) rotate(-90)" text-anchor="middle" font-size="11.65">PR SocDem Appealing</text>
</g>
<g>
<path d="M477.35 239.50H642.00" fill="none" stroke="#555" stroke-width="1"/>
<path d="M641.5 239.50V421.20" fill="none" stroke="#505050" stroke-width="1"/>
<polygon points="484.60,353.69 488.15,352.57 491.90,351.44 495.66,350.28 499.41,349.10 503.16,347.90 506.91,346.67 510.67,345.42 514.42,344.14 518.17,342.84 521.92,341.50 525.68,340.13 529.43,338.73 533.18,337.28 536.93,335.80 540.69,334.27 544.44,332.69 548.19,331.07 551.94,329.39 555.70,327.65 559.45,325.86 563.20,324.01 566.95,322.10 570.71,320.13 574.46,318.11 578.21,316.03 581.96,313.90 585.72,311.72 589.47,309.48 593.22,307.20 596.98,304.87 600.73,302.50 604.48,300.08 608.23,297.62 611.99,295.12 615.74,292.58 619.49,290.00 623.24,287.38 627.00,284.73 630.75,282.03 634.30,279.31 634.30,299.86 630.75,301.60 627.00,303.33 623.24,305.05 619.49,306.75 615.74,308.44 611.99,310.12 608.23,311.78 604.48,313.44 600.73,315.09 596.98,316.72 593.22,318.36 589.47,319.98 585.72,321.60 581.96,323.22 578.21,324.83 574.46,326.45 570.71,328.06 566.95,329.68 563.20,331.30 559.45,332.93 555.70,334.56 551.94,336.20 548.19,337.83 544.44,339.47 540.69,341.10 536.93,342.73 533.18,344.35 529.43,345.96 525.68,347.56 521.92,349.14 518.17,350.70 514.42,352.24 510.67,353.75 506.91,355.25 503.16,356.72 499.41,358.16 495.66,359.58 491.90,360.97 488.15,362.33 484.60,363.67" fill="#8f9093"/>
<polyline points="484.40,358.68 488.15,357.45 491.90,356.20 495.66,354.93 499.41,353.63 503.16,352.31 506.91,350.96 510.67,349.59 514.42,348.19 518.17,346.77 521.92,345.32 525.68,343.84 529.43,342.34 533.18,340.82 536.93,339.27 540.69,337.69 544.44,336.08 548.19,334.45 551.94,332.79 555.70,331.11 559.45,329.39 563.20,327.66 566.95,325.89 570.71,324.10 574.46,322.28 578.21,320.43 581.96,318.56 585.72,316.66 589.47,314.73 593.22,312.78 596.98,310.80 600.73,308.79 604.48,306.76 608.23,304.70 611.99,302.62 615.74,300.51 619.49,298.37 623.24,296.21 627.00,294.03 630.75,291.82 634.50,289.59" fill="none" stroke="#242424" stroke-width="1.2"/>
<circle cx="484.40" cy="358.68" r="3" fill="#555"/>
<circle cx="499.41" cy="353.63" r="3" fill="#555"/>
<circle cx="514.42" cy="348.19" r="3" fill="#555"/>
<circle cx="529.43" cy="342.34" r="3" fill="#555"/>
<circle cx="544.44" cy="336.08" r="3" fill="#555"/>
<circle cx="559.45" cy="329.39" r="3" fill="#555"/>
<circle cx="574.46" cy="322.28" r="3" fill="#555"/>
<circle cx="589.47" cy="314.73" r="3" fill="#555"/>
<circle cx="604.48" cy="306.76" r="3" fill="#555"/>
<circle cx="619.49" cy="298.37" r="3" fill="#555"/>
<circle cx="634.50" cy="289.59" r="3" fill="#555"/>
<polygon points="484.60,353.69 488.15,352.57 491.90,351.44 495.66,350.28 499.41,349.10 503.16,347.90 506.91,346.67 510.67,345.42 514.42,344.14 518.17,342.84 521.92,341.50 525.68,340.13 529.43,338.73 533.18,337.28 536.93,335.80 540.69,334.27 544.44,332.69 548.19,331.07 551.94,329.39 555.70,327.65 559.45,325.86 563.20,324.01 566.95,322.10 570.71,320.13 574.46,318.11 578.21,316.03 581.96,313.90 585.72,311.72 589.47,309.48 593.22,307.20 596.98,304.87 600.73,302.50 604.48,300.08 608.23,297.62 611.99,295.12 615.74,292.58 619.49,290.00 623.24,287.38 627.00,284.73 630.75,282.03 634.30,279.31 634.30,299.86 630.75,301.60 627.00,303.33 623.24,305.05 619.49,306.75 615.74,308.44 611.99,310.12 608.23,311.78 604.48,313.44 600.73,315.09 596.98,316.72 593.22,318.36 589.47,319.98 585.72,321.60 581.96,323.22 578.21,324.83 574.46,326.45 570.71,328.06 566.95,329.68 563.20,331.30 559.45,332.93 555.70,334.56 551.94,336.20 548.19,337.83 544.44,339.47 540.69,341.10 536.93,342.73 533.18,344.35 529.43,345.96 525.68,347.56 521.92,349.14 518.17,350.70 514.42,352.24 510.67,353.75 506.91,355.25 503.16,356.72 499.41,358.16 495.66,359.58 491.90,360.97 488.15,362.33 484.60,363.67" fill="none" stroke="#56575a" stroke-width="1.5" stroke-linejoin="miter"/>
<path d="M477.35 239.50 V421.20 H642.00" fill="none" stroke="#3c3c3c" stroke-width="1.3"/>
<path d="M484.40 421.20v4.8M499.41 421.20v4.8M514.42 421.20v4.8M529.43 421.20v4.8M544.44 421.20v4.8M559.45 421.20v4.8M574.46 421.20v4.8M589.47 421.20v4.8M604.48 421.20v4.8M619.49 421.20v4.8M634.50 421.20v4.8M477.35 414.30h-5.2M477.35 372.35h-5.2M477.35 330.40h-5.2M477.35 288.45h-5.2M477.35 246.50h-5.2" fill="none" stroke="#3c3c3c" stroke-width="1.1"/>
<text transform="translate(484.40 436.95) scale(.96 1.08)" text-anchor="middle">0</text>
<text transform="translate(499.41 436.95) scale(.96 1.08)" text-anchor="middle">1</text>
<text transform="translate(514.42 436.95) scale(.96 1.08)" text-anchor="middle">2</text>
<text transform="translate(529.43 436.95) scale(.96 1.08)" text-anchor="middle">3</text>
<text transform="translate(544.44 436.95) scale(.96 1.08)" text-anchor="middle">4</text>
<text transform="translate(559.45 436.95) scale(.96 1.08)" text-anchor="middle">5</text>
<text transform="translate(574.46 436.95) scale(.96 1.08)" text-anchor="middle">6</text>
<text transform="translate(589.47 436.95) scale(.96 1.08)" text-anchor="middle">7</text>
<text transform="translate(604.48 436.95) scale(.96 1.08)" text-anchor="middle">8</text>
<text transform="translate(619.49 436.95) scale(.96 1.08)" text-anchor="middle">9</text>
<text transform="translate(634.50 436.95) scale(.96 1.08)" text-anchor="middle">10</text>
<text x="559.58" y="449.70" text-anchor="middle">EU Confidence</text>
<text transform="translate(466.55 413.95) rotate(-90) scale(.96 1.08)" text-anchor="middle">0</text>
<text transform="translate(466.55 372.00) rotate(-90) scale(.96 1.08)" text-anchor="middle">.1</text>
<text transform="translate(466.55 330.05) rotate(-90) scale(.96 1.08)" text-anchor="middle">.2</text>
<text transform="translate(466.55 288.10) rotate(-90) scale(.96 1.08)" text-anchor="middle">.3</text>
<text transform="translate(466.55 246.15) rotate(-90) scale(.96 1.08)" text-anchor="middle">.4</text>
<text transform="translate(453.85 330.20) rotate(-90)" text-anchor="middle" font-size="11.65">PR SocDem Appealing</text>
</g>
</svg>
</body></html>
